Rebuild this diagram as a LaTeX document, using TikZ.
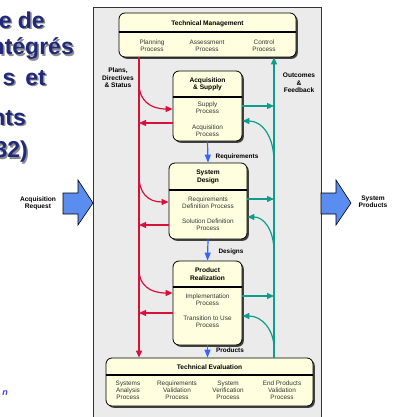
\documentclass[tikz,border=0pt]{standalone}
\usepackage{fontspec}
\setmainfont{Liberation Sans}
\usetikzlibrary{arrows.meta}

\definecolor{panelgray}{HTML}{EBEBEB}
\definecolor{boxfill}{HTML}{FFFFE0}
\definecolor{flowred}{HTML}{D8103C}
\definecolor{flowteal}{HTML}{109C8C}
\definecolor{flowblue}{HTML}{3366FF}
\definecolor{bigarrow}{HTML}{5B8CF0}
\definecolor{titlenavy}{HTML}{1F2A7A}
\definecolor{proctextgray}{HTML}{333333}

\begin{document}
\begin{tikzpicture}[x=1pt,y=-1pt,
  procbox/.style={draw=black, line width=0.8pt, fill=boxfill, rounded corners=6pt,
    inner sep=0pt,
    preaction={fill=black!75, transform canvas={shift={(1.8pt,-1.8pt)}}}},
  boxtitle/.style={font=\bfseries\fontsize{6.6}{7.3}\selectfont, align=center, inner sep=0pt},
  proctext/.style={font=\fontsize{6.4}{7}\selectfont, text=proctextgray, align=center, inner sep=0pt},
  flowlabel/.style={font=\bfseries\fontsize{6.4}{7}\selectfont, align=center, inner sep=0pt},
  sidelabel/.style={font=\bfseries\fontsize{6.6}{7.4}\selectfont, align=center, inner sep=0pt},
  redflow/.style={draw=flowred, line width=1.2pt, -{Triangle[length=7pt,width=6pt]}},
  tealflow/.style={draw=flowteal, line width=1.2pt, -{Triangle[length=7pt,width=6pt]}},
  blueflow/.style={draw=flowblue, line width=1.2pt, -{Triangle[length=8pt,width=6pt]}},
  sep/.style={line width=1.1pt},
  bigtitle/.style={font=\bfseries\fontsize{23}{26}\selectfont, inner sep=0pt, anchor=east},
]
\useasboundingbox (0,0) rectangle (397,417);
\clip (0,0) rectangle (397,417);

% heading text at the left (runs off the left edge)
\foreach \txt/\xr/\yc in {e de/45/20, ntégrés/74/49, s\hspace{10pt}et/46/78, nts/26/118, 32)/28/152}{
  \node[bigtitle, text=black!45] at (\xr+1.5,\yc+1.5) {\txt};
  \node[bigtitle, text=titlenavy] at (\xr,\yc) {\txt};
}
\node[font=\bfseries\itshape\fontsize{9}{10}\selectfont, text=blue!75!white, anchor=east, inner sep=0pt] (tail) at (8,393) {n};

% background panel
\draw[fill=panelgray, draw=black!80, line width=0.7pt] (93,7) rectangle (321,430);

% input / output arrows
\draw[fill=bigarrow, draw=black, line width=0.6pt]
  (63,193) -- (78,193) -- (78,180) -- (93,203) -- (78,225) -- (78,214) -- (63,214) -- cycle;
\draw[fill=bigarrow, draw=black, line width=0.6pt]
  (321,193) -- (336,193) -- (336,180) -- (351,203) -- (336,225) -- (336,214) -- (321,214) -- cycle;
\node[sidelabel] (inlbl) at (38,203) {Acquisition\\Request};
\node[sidelabel] (outlbl) at (373,202) {System\\Products};

% process boxes
\node[procbox, minimum width=177pt, minimum height=44pt] (tm) at (207.5,35) {};
\node[procbox, minimum width=69pt, minimum height=70pt] (as) at (207.5,106) {};
\node[procbox, minimum width=78pt, minimum height=76pt] (sd) at (208,201) {};
\node[procbox, minimum width=69pt, minimum height=84pt] (pr) at (207.5,303) {};
\node[procbox, minimum width=207pt, minimum height=48pt] (te) at (209.5,382) {};

% title separators
\draw[sep] (tm.west |- 0,32) -- (tm.east |- 0,32);
\draw[sep] (as.west |- 0,97) -- (as.east |- 0,97);
\draw[sep] (sd.west |- 0,190) -- (sd.east |- 0,190);
\draw[sep] (pr.west |- 0,287) -- (pr.east |- 0,287);
\draw[sep] (te.west |- 0,375) -- (te.east |- 0,375);

% box contents
\node[boxtitle] (tmT) at (207.5,24) {Technical Management};
\node[proctext] (tm1) at (152,45.5) {Planning\\Process};
\node[proctext] (tm2) at (207,45.5) {Assessment\\Process};
\node[proctext] (tm3) at (264,45.5) {Control\\Process};

\node[boxtitle] (asT) at (207.5,84) {Acquisition\\\& Supply};
\node[proctext] (as1) at (207.5,108) {Supply\\Process};
\node[proctext] (as2) at (207.5,131) {Acquisition\\Process};

\node[boxtitle] (sdT) at (208,177) {System\\Design};
\node[proctext] (sd1) at (208,203) {Requirements\\Definition Process};
\node[proctext] (sd2) at (208,225) {Solution Definition\\Process};

\node[boxtitle] (prT) at (207.5,274) {Product\\Realization};
\node[proctext] (pr1) at (207.5,300) {Implementation\\Process};
\node[proctext] (pr2) at (207.5,322) {Transition to Use\\Process};

\node[boxtitle] (teT) at (209.5,367) {Technical Evaluation};
\node[proctext] (te1) at (128,390.5) {Systems\\Analysis\\Process};
\node[proctext] (te2) at (177,390.5) {Requirements\\Validation\\Process};
\node[proctext] (te3) at (228,390.5) {System\\Verification\\Process};
\node[proctext] (te4) at (282,390.5) {End Products\\Validation\\Process};

% control and feedback trunks
\coordinate (redx) at (139,0);
\coordinate (tealx) at (274,0);
\draw[redflow] (tm.south -| redx) -- (te.north -| redx);
\draw[tealflow] (te.north -| tealx) -- (tm.south -| tealx);

\node[sidelabel] (plans) at (118,78) {Plans,\\Directives\\\& Status};
\node[sidelabel] (outc) at (299,83) {Outcomes\\\&\\Feedback};

% directives into each box, status back to the trunk
\coordinate (ra) at (139,84);  \coordinate (rb) at (139,176);  \coordinate (rc) at (139,270);
\draw[redflow] (ra) .. controls (139,100) and (150,109) .. (as.west |- 0,109);
\draw[redflow] (as.west |- 0,123) -- (redx |- 0,123);
\draw[redflow] (rb) .. controls (139,193) and (148,202) .. (sd.west |- 0,202);
\draw[redflow] (sd.west |- 0,225) -- (redx |- 0,225);
\draw[redflow] (rc) .. controls (139,285) and (150,293) .. (pr.west |- 0,293);
\draw[redflow] (pr.west |- 0,313) -- (redx |- 0,313);

% outcomes out of each box, feedback back in
\coordinate (ta) at (274,162);  \coordinate (tb) at (274,252);  \coordinate (tc) at (274,348);
\draw[tealflow] (as.east |- 0,106) -- (tealx |- 0,106);
\draw[tealflow] (ta) .. controls (274,136) and (262,121) .. (as.east |- 0,121);
\draw[tealflow] (sd.east |- 0,199) -- (tealx |- 0,199);
\draw[tealflow] (tb) .. controls (274,230) and (264,217) .. (sd.east |- 0,217);
\draw[tealflow] (pr.east |- 0,296) -- (tealx |- 0,296);
\draw[tealflow] (tc) .. controls (274,330) and (262,316) .. (pr.east |- 0,316);

% main flow down the chain
\draw[blueflow] (as.south) -- (sd.north);
\draw[blueflow] (sd.south) -- (pr.north);
\draw[blueflow] (pr.south) -- (te.north -| pr.south);
\node[flowlabel] (req) at (237,157) {Requirements};
\node[flowlabel] (des) at (231,252) {Designs};
\node[flowlabel] (prod) at (230,350) {Products};
\end{tikzpicture}
\end{document}
